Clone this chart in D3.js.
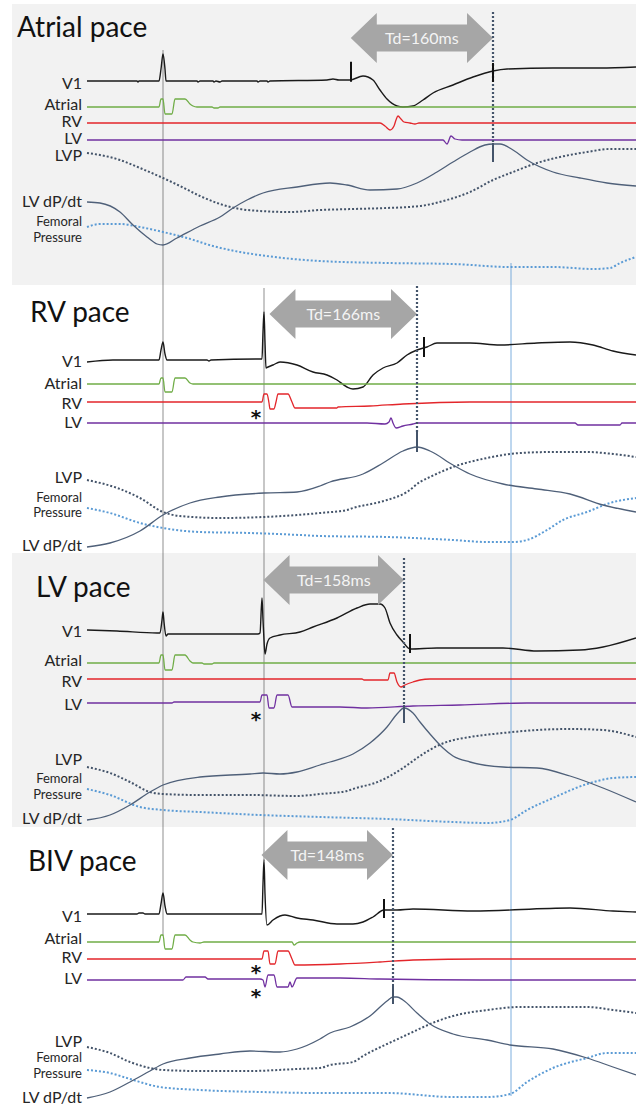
<!DOCTYPE html>
<html>
<head>
<meta charset="utf-8">
<script src="https://cdn.jsdelivr.net/npm/d3@7"></script>
<style>
  html, body { margin: 0; padding: 0; background: #fff; }
  svg { display: block; font-family: Lato, "Open Sans", sans-serif; }
</style>
</head>
<body>
<svg id="chart" width="636" height="1107"></svg>
<script>
// ---------------------------------------------------------------
// Recordings: time in samples (1 sample = 1.125 ms)
// ECG / EGM channels: deflection from the channel baseline
// Pressure channels: level above the panel floor (arbitrary units)
// ---------------------------------------------------------------
const MS_PER_SAMPLE = 1.125;

const panelTitles = ["Atrial pace", "RV pace", "LV pace", "BIV pace"];
const tdMs = [160, 166, 158, 148];             // delay V1 onset -> LV dP/dt peak
const tdEndSample = [406, 330, 317, 306];      // LV dP/dt peak
const v1MarkSample = [[264, 406], [337], [323], [297]];
const atrialPaceSpike = 76;                    // atrial pacing stimulus
const ventPaceSpike = 177;                     // ventricular pacing stimulus
const referenceSample = 424;                   // common reference instant

const channelLabels = ["V1", "Atrial", "RV", "LV"];
const pressureLabels = ["LVP", "LV dP/dt", "Femoral", "Pressure"];

// ---- Atrial pace ----
const atrialPaceV1 = [[0,0],[50,0],[51,-1],[52,0],[72,0],[74,12],[76,27],[78,12],[79,0],[110,0],[111,-1],[113,0],[126,0],[127,-1],[129,0],[133,-1],[135,0],[170,0],[171,-1],[173,0],[180,0],[181,-1],[183,0],[240,1],[246,2],[252,1],[263,1],[276,5],[286,1],[293,-9],[300,-18],[310,-25],[316,-26],[326,-25],[336,-19],[346,-12],[366,-4],[386,4],[406,10],[420,12],[466,13],[513,13],[549,14]];
const atrialPaceAtrial = [[0,0],[72,0],[74,8],[76,8],[78,-7],[85,-7],[88,8],[98,8],[103,3],[106,1],[110,0],[125,0],[127,-1],[131,-1],[133,0],[549,0]];
const atrialPaceRV = [[0,0],[293,0],[298,-3],[303,-7],[307,-3],[309,3],[311,7],[314,4],[317,1],[323,0],[328,-1],[332,0],[549,0]];
const atrialPaceLV = [[0,0],[356,0],[360,-4],[364,4],[368,1],[375,0],[549,0]];
const atrialPaceLVP = [[0,132],[13,130],[33,125],[53,117],[76,107],[93,99],[113,89],[133,81],[153,76],[173,74],[203,73],[233,75],[266,76],[300,77],[333,79],[360,85],[383,93],[406,105],[426,113],[450,122],[473,128],[500,133],[523,136],[549,136]];
const atrialPaceDpdt = [[0,83],[13,82],[33,73],[46,60],[60,48],[70,41],[76,40],[90,47],[113,59],[133,68],[146,77],[160,85],[176,92],[210,98],[243,102],[260,100],[283,95],[310,96],[330,102],[350,113],[366,123],[383,133],[398,140],[406,141],[413,141],[426,135],[440,125],[466,113],[493,107],[520,102],[549,99]];
const atrialPaceFem = [[0,58],[13,61],[33,61],[53,58],[76,53],[100,47],[126,39],[153,33],[180,29],[206,26],[233,24],[300,22],[366,21],[423,18],[466,18],[506,16],[523,17],[533,22],[549,28]];

// ---- RV pace ----
const rvPaceV1 = [[0,0],[26,2],[72,2],[74,12],[76,20],[78,8],[80,2],[120,2],[122,1],[124,2],[173,3],[175,3],[176,30],[177,50],[178,20],[179,-6],[181,-5],[186,-3],[193,0],[210,-3],[226,-10],[240,-13],[250,-18],[260,-25],[266,-27],[276,-25],[286,-13],[296,-6],[310,-1],[320,7],[330,12],[340,15],[350,19],[383,19],[413,17],[450,19],[483,20],[506,17],[526,11],[549,7]];
const rvPaceAtrial = [[0,0],[72,0],[74,6],[76,6],[78,-8],[85,-8],[88,6],[98,6],[103,1],[106,0],[549,0]];
const rvPaceRV = [[0,0],[175,0],[177,8],[180,8],[182,-1],[183,-7],[187,-7],[189,0],[191,8],[201,8],[205,0],[208,-6],[250,-6],[251,-5],[283,-4],[316,-2],[383,0],[549,0]];
const rvPaceLV = [[0,0],[280,0],[298,-1],[302,1],[304,5],[306,0],[309,-5],[316,-3],[326,-1],[330,0],[488,0],[491,-2],[533,-2],[535,0],[549,0]];
const rvPaceLVP = [[0,73],[33,64],[53,55],[76,41],[93,37],[133,35],[177,36],[210,38],[233,40],[260,43],[266,45],[293,51],[300,53],[320,61],[333,71],[343,76],[366,86],[400,95],[433,100],[466,101],[500,101],[526,99],[549,96]];
const rvPaceDpdt = [[0,6],[23,10],[53,22],[76,38],[103,50],[133,56],[177,60],[210,61],[233,67],[243,71],[276,79],[296,90],[316,102],[330,106],[343,102],[366,88],[383,79],[416,69],[450,64],[483,59],[516,48],[549,41]];
const rvPaceFem = [[0,45],[23,40],[53,30],[76,25],[113,21],[163,20],[213,18],[233,17],[300,16],[366,13],[400,11],[426,11],[440,13],[460,23],[476,33],[500,41],[523,50],[549,55]];

// ---- LV pace ----
const lvPaceV1 = [[0,0],[30,-1],[70,-3],[73,-3],[75,10],[76,18],[77,8],[79,-6],[81,-4],[113,-4],[171,-4],[173,-3],[175,32],[176,10],[177,-10],[178,-24],[180,-14],[183,-8],[193,-5],[213,-2],[226,3],[250,12],[270,22],[283,26],[293,26],[298,22],[303,7],[310,-5],[316,-12],[323,-19],[350,-18],[416,-18],[450,-21],[493,-20],[516,-17],[549,-8]];
const lvPaceAtrial = [[0,0],[72,0],[74,8],[76,8],[78,-7],[85,-7],[88,8],[98,8],[103,2],[106,0],[115,0],[117,-1],[125,-1],[127,0],[549,0]];
const lvPaceRV = [[0,0],[275,0],[277,-1],[301,-1],[303,6],[307,6],[310,-3],[314,-8],[318,-6],[326,-3],[333,-1],[343,0],[549,0]];
const lvPaceLV = [[0,0],[85,0],[87,1],[173,1],[175,8],[180,8],[182,-5],[187,-5],[190,8],[201,8],[205,-4],[253,-4],[280,-5],[326,-3],[373,-2],[440,0],[549,0]];
const lvPaceLVP = [[0,61],[23,55],[43,46],[63,36],[76,34],[113,33],[163,33],[210,32],[233,34],[260,37],[266,39],[293,47],[303,52],[316,60],[333,72],[350,82],[363,87],[383,91],[416,95],[450,98],[483,99],[516,98],[549,91]];
const lvPaceDpdt = [[0,8],[23,13],[43,23],[63,36],[76,43],[113,51],[163,54],[176,55],[193,54],[210,56],[233,63],[243,66],[266,74],[283,85],[300,101],[310,114],[317,120],[326,115],[333,106],[343,94],[356,80],[366,72],[383,66],[416,61],[450,60],[483,52],[516,40],[549,26]];
const lvPaceFem = [[0,39],[23,33],[53,21],[76,18],[113,16],[173,13],[233,11],[300,9],[366,6],[400,5],[423,8],[440,18],[466,30],[500,44],[526,50],[549,51]];

// ---- BIV pace ----
const bivPaceV1 = [[0,0],[50,0],[52,1],[56,1],[58,0],[72,0],[74,10],[76,21],[78,8],[80,0],[175,0],[176,30],[177,54],[178,20],[180,-11],[186,-6],[193,-2],[198,-1],[210,-4],[226,-6],[250,-10],[266,-10],[276,-8],[286,-3],[297,4],[310,4],[326,5],[386,3],[483,6],[526,3],[549,2]];
const bivPaceAtrial = [[0,0],[72,0],[74,7],[76,7],[78,-7],[85,-7],[88,7],[98,7],[103,2],[106,0],[113,-1],[117,0],[205,0],[207,-3],[210,-1],[213,0],[549,0]];
const bivPaceRV = [[0,0],[175,0],[177,8],[181,8],[183,-5],[188,-5],[191,8],[201,8],[205,0],[208,-6],[253,-5],[293,-3],[326,-1],[396,0],[549,0]];
const bivPaceLV = [[0,0],[96,0],[99,3],[118,3],[121,1],[173,1],[176,0],[178,-7],[181,5],[187,5],[190,-7],[201,-7],[203,-2],[205,-7],[210,2],[253,2],[293,1],[393,0],[549,0]];
const bivPaceLVP = [[0,60],[23,54],[43,45],[63,39],[76,37],[113,36],[163,36],[210,38],[233,39],[243,42],[266,45],[276,51],[300,63],[313,69],[330,77],[348,85],[366,91],[400,97],[433,100],[466,100],[500,100],[526,97],[549,94]];
const bivPaceDpdt = [[0,9],[23,15],[43,25],[63,36],[76,43],[103,49],[133,53],[163,56],[193,55],[210,58],[233,68],[243,74],[263,80],[283,91],[300,106],[306,110],[310,110],[316,107],[330,94],[343,83],[366,73],[400,67],[423,62],[466,58],[500,49],[526,40],[549,32]];
const bivPaceFem = [[0,37],[23,34],[43,28],[73,20],[113,17],[173,15],[233,14],[300,14],[366,10],[400,10],[423,13],[440,25],[466,39],[500,49],[520,54],[549,54]];

const recordings = [
  { ecg: [atrialPaceV1, atrialPaceAtrial, atrialPaceRV, atrialPaceLV], lvp: atrialPaceLVP, dpdt: atrialPaceDpdt, fem: atrialPaceFem },
  { ecg: [rvPaceV1, rvPaceAtrial, rvPaceRV, rvPaceLV], lvp: rvPaceLVP, dpdt: rvPaceDpdt, fem: rvPaceFem },
  { ecg: [lvPaceV1, lvPaceAtrial, lvPaceRV, lvPaceLV], lvp: lvPaceLVP, dpdt: lvPaceDpdt, fem: lvPaceFem },
  { ecg: [bivPaceV1, bivPaceAtrial, bivPaceRV, bivPaceLV], lvp: bivPaceLVP, dpdt: bivPaceDpdt, fem: bivPaceFem }
];

// ---------------------------------------------------------------
// Layout of the four stacked panels
// ---------------------------------------------------------------
const layout = [
  { shade: [4, 285], title: [17, 37], base: [81, 107, 123, 140], labelY: [89, 110, 127, 144],
    floor: 285, lvpY: 161, dpdtY: 207, femY: [226, 242], arrowY: 38, tdTop: 12,
    v1Tick: [[18, 2], [8, 11]], dpdtTick: [1, 18], stars: [] },
  { shade: null, title: [30, 322], base: [362, 384, 402, 423], labelY: [367, 389, 409, 428],
    floor: 553, lvpY: 483, dpdtY: 551, femY: [502, 517], arrowY: 314, tdTop: 286,
    v1Tick: [[11, 9]], dpdtTick: [15, 5], stars: [[2, 11]] },
  { shade: [553, 827], title: [36, 597], base: [630, 663, 679, 703], labelY: [637, 666, 687, 710],
    floor: 828, lvpY: 765, dpdtY: 824, femY: [783, 799], arrowY: 580, tdTop: 558,
    v1Tick: [[15, 4]], dpdtTick: [3, 15], stars: [[3, 12]] },
  { shade: null, title: [28, 871], base: [914, 942, 959, 980], labelY: [922, 944, 963, 984],
    floor: 1107, lvpY: 1047, dpdtY: 1103, femY: [1062, 1078], arrowY: 855, tdTop: 828,
    v1Tick: [[11, 8]], dpdtTick: [13, 7], stars: [[2, 9], [3, 12]] }
];

const colors = {
  v1: "#1a1a1a", atrial: "#70ad47", rv: "#e3262b", lv: "#7030a0",
  lvp: "#44546a", dpdt: "#4f6079", fem: "#5b9bd5",
  shade: "#f2f2f2", arrow: "#a6a6a6", ref: "#5f5f5f", text: "#262626"
};
const ecgColors = [colors.v1, colors.atrial, colors.rv, colors.lv];

const svg = d3.select("#chart");
const x = d3.scaleLinear().domain([0, 549]).range([87, 636]);

// linear interpolation of a trace at time t
function valueAt(series, t) {
  const i = d3.bisector(d => d[0]).left(series, t);
  if (i <= 0) return series[0][1];
  if (i >= series.length) return series[series.length - 1][1];
  const a = series[i - 1], b = series[i];
  return a[1] + (b[1] - a[1]) * (t - a[0]) / (b[0] - a[0]);
}

// panel backgrounds
layout.forEach(L => {
  if (L.shade) {
    svg.append("rect").attr("x", 12).attr("y", L.shade[0])
      .attr("width", 624).attr("height", L.shade[1] - L.shade[0])
      .attr("fill", colors.shade);
  }
});

// reference lines spanning the panels
const refG = svg.append("g");
refG.append("line").attr("x1", x(atrialPaceSpike)).attr("x2", x(atrialPaceSpike))
  .attr("y1", 50).attr("y2", 936).attr("stroke", colors.ref).attr("stroke-width", 0.7);
refG.append("line").attr("x1", x(ventPaceSpike)).attr("x2", x(ventPaceSpike))
  .attr("y1", 288).attr("y2", 860).attr("stroke", colors.ref).attr("stroke-width", 0.7);
refG.append("line").attr("x1", x(referenceSample)).attr("x2", x(referenceSample))
  .attr("y1", 263).attr("y2", 1096).attr("stroke", colors.fem).attr("stroke-width", 0.8);

recordings.forEach((rec, p) => {
  const L = layout[p];
  const g = svg.append("g");

  // title
  g.append("text").attr("x", L.title[0]).attr("y", L.title[1])
    .attr("font-size", 28).attr("fill", "#111").text(panelTitles[p]);

  // ECG / electrogram channels
  const yEcg = L.base.map(b => d3.scaleLinear().domain([0, 10]).range([b, b - 10]));
  rec.ecg.forEach((series, c) => {
    const line = d3.line().x(d => x(d[0])).y(d => yEcg[c](d[1])).curve(d3.curveMonotoneX);
    g.append("path").attr("d", line(series)).attr("fill", "none")
      .attr("stroke", ecgColors[c]).attr("stroke-width", c === 0 ? 1.4 : 1.3)
      .attr("stroke-linejoin", "round");
    g.append("text").attr("x", 82).attr("y", L.labelY[c]).attr("text-anchor", "end")
      .attr("font-size", 16).attr("fill", colors.text).text(channelLabels[c]);
  });

  // pressure channels
  const yP = d3.scaleLinear().domain([0, 100]).range([L.floor, L.floor - 100]);
  const pLine = d3.line().x(d => x(d[0])).y(d => yP(d[1])).curve(d3.curveMonotoneX);
  g.append("path").attr("d", pLine(rec.fem)).attr("fill", "none")
    .attr("stroke", colors.fem).attr("stroke-width", 2).attr("stroke-dasharray", "2,2");
  g.append("path").attr("d", pLine(rec.lvp)).attr("fill", "none")
    .attr("stroke", colors.lvp).attr("stroke-width", 2).attr("stroke-dasharray", "2,2");
  g.append("path").attr("d", pLine(rec.dpdt)).attr("fill", "none")
    .attr("stroke", colors.dpdt).attr("stroke-width", 1.3);

  g.append("text").attr("x", 82).attr("y", L.lvpY).attr("text-anchor", "end")
    .attr("font-size", 16).attr("fill", colors.text).text(pressureLabels[0]);
  g.append("text").attr("x", 82).attr("y", L.dpdtY).attr("text-anchor", "end")
    .attr("font-size", 16).attr("fill", colors.text).text(pressureLabels[1]);
  g.append("text").attr("x", 82).attr("y", L.femY[0]).attr("text-anchor", "end")
    .attr("font-size", 13).attr("fill", colors.text).text(pressureLabels[2]);
  g.append("text").attr("x", 82).attr("y", L.femY[1]).attr("text-anchor", "end")
    .attr("font-size", 13).attr("fill", colors.text).text(pressureLabels[3]);

  // pacing stimulus markers next to the paced channels
  L.stars.forEach(([c, off]) => {
    g.append("text").attr("x", x(169)).attr("y", L.base[c] + off + 11)
      .attr("text-anchor", "middle").attr("font-family", "'DejaVu Sans', sans-serif")
      .attr("font-size", 20).attr("font-weight", 700).attr("fill", "#111").text("*");
  });

  // Td double arrow: ends at the LV dP/dt peak, spans Td
  const tEnd = tdEndSample[p];
  const tStart = tEnd - tdMs[p] / MS_PER_SAMPLE;
  const x0 = x(tStart), x1 = x(tEnd), cy = L.arrowY;
  const hl = 26, hh = 25, sh = 13.5;
  const pts = [[x0, cy], [x0 + hl, cy - hh], [x0 + hl, cy - sh], [x1 - hl, cy - sh], [x1 - hl, cy - hh],
               [x1, cy], [x1 - hl, cy + hh], [x1 - hl, cy + sh], [x0 + hl, cy + sh], [x0 + hl, cy + hh]];
  g.append("polygon").attr("points", pts.map(d => d.join(",")).join(" ")).attr("fill", colors.arrow);
  g.append("text").attr("x", (x0 + x1) / 2).attr("y", cy + 5.5).attr("text-anchor", "middle")
    .attr("font-size", 16).attr("fill", "#f4f4f4").text(`Td=${tdMs[p]}ms`);

  // dotted timing line down to the LV dP/dt peak
  const peakY = yP(valueAt(rec.dpdt, tEnd));
  g.append("line").attr("x1", x1).attr("x2", x1).attr("y1", L.tdTop).attr("y2", peakY - L.dpdtTick[0])
    .attr("stroke", colors.lvp).attr("stroke-width", 2.2).attr("stroke-dasharray", "2,2");
  g.append("line").attr("x1", x1).attr("x2", x1)
    .attr("y1", peakY - L.dpdtTick[0]).attr("y2", peakY + L.dpdtTick[1])
    .attr("stroke", colors.lvp).attr("stroke-width", 2);

  // V1 timing ticks
  v1MarkSample[p].forEach((t, k) => {
    const vy = yEcg[0](valueAt(rec.ecg[0], t));
    g.append("line").attr("x1", x(t)).attr("x2", x(t))
      .attr("y1", vy - L.v1Tick[k][0]).attr("y2", vy + L.v1Tick[k][1])
      .attr("stroke", "#111").attr("stroke-width", 2);
  });
});
</script>
</body>
</html>
